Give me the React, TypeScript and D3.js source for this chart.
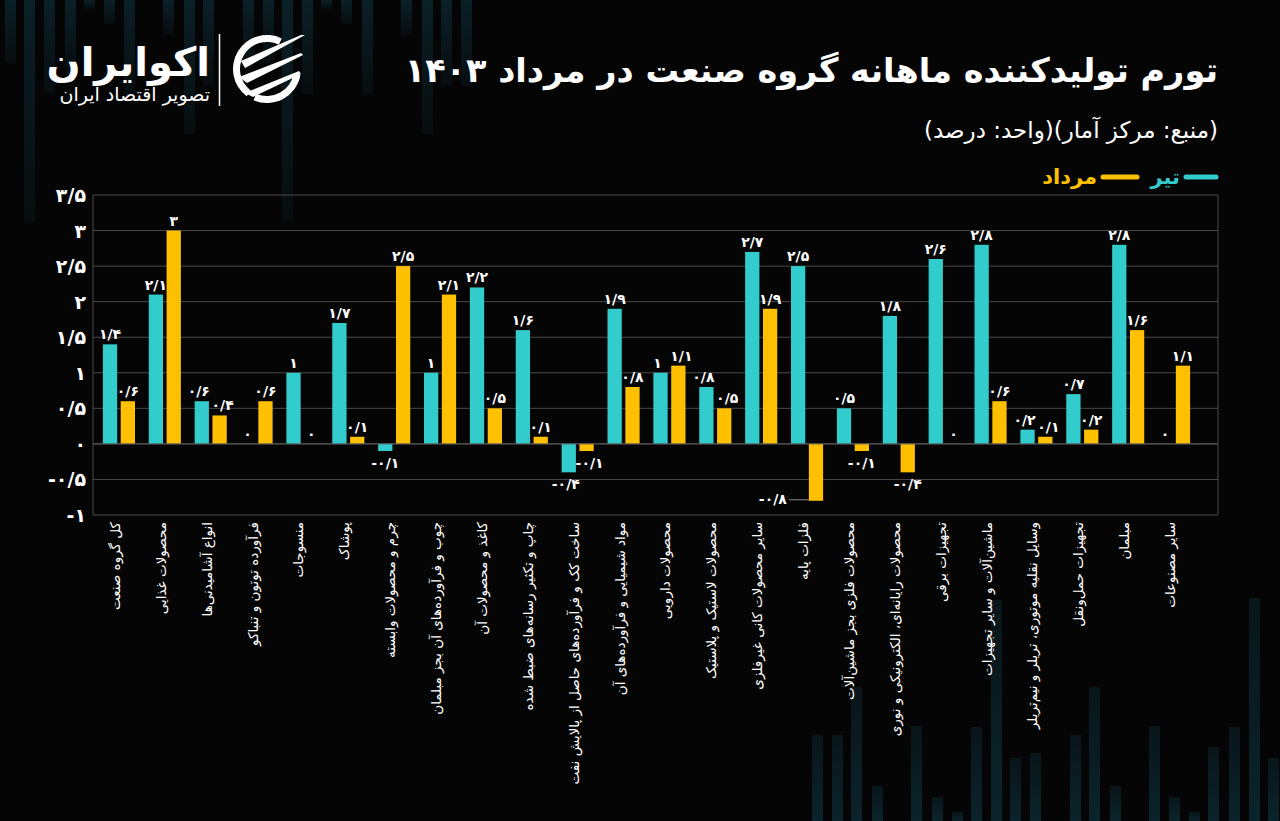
import React from "react";
import * as d3 from "d3";

const categories = [
  "کل گروه صنعت",
  "محصولات غذایی",
  "انواع آشامیدنی‌ها",
  "فرآورده توتون و تنباکو",
  "منسوجات",
  "پوشاک",
  "چرم و محصولات وابسته",
  "چوب و فرآورده‌های آن بجز مبلمان",
  "کاغذ و محصولات آن",
  "چاپ و تکثیر رسانه‌های ضبط شده",
  "ساخت کک و فرآورده‌های حاصل از پالایش نفت",
  "مواد شیمیایی و فرآورده‌های آن",
  "محصولات دارویی",
  "محصولات لاستیک و پلاستیک",
  "سایر محصولات کانی غیرفلزی",
  "فلزات پایه",
  "محصولات فلزی بجز ماشین‌آلات",
  "محصولات رایانه‌ای، الکترونیکی و نوری",
  "تجهیزات برقی",
  "ماشین‌آلات و سایر تجهیزات",
  "وسایل نقلیه موتوری، تریلر و نیم‌تریلر",
  "تجهیزات حمل‌ونقل",
  "مبلمان",
  "سایر مصنوعات",
];

const tirValues = [1.4, 2.1, 0.6, 0, 1, 1.7, -0.1, 1, 2.2, 1.6, -0.4, 1.9, 1, 0.8, 2.7, 2.5, 0.5, 1.8, 2.6, 2.8, 0.2, 0.7, 2.8, 0];
const mordadValues = [0.6, 3, 0.4, 0.6, 0, 0.1, 2.5, 2.1, 0.5, 0.1, -0.1, 0.8, 1.1, 0.5, 1.9, -0.8, -0.1, -0.4, 0, 0.6, 0.1, 0.2, 1.6, 1.1];
const seriesKeys = ["tir", "mordad"];
const seriesNames = ["تیر", "مرداد"];
const yTicks = [-1, -0.5, 0, 0.5, 1, 1.5, 2, 2.5, 3, 3.5];

const titleText = "تورم تولیدکننده ماهانه گروه صنعت در مرداد ۱۴۰۳";
const subtitleText = "\u200F(منبع: مرکز آمار)(واحد: درصد)\u200F";
const brandName = "اکوایران";
const brandTag = "تصویر اقتصاد ایران";

// decorative background bars (x, top) of bottom-right group; mirrored to top-left
const decoBars = [
  [812, 735], [832, 735], [851, 687], [872, 786], [911, 726], [932, 797], [952, 812],
  [971, 727], [991, 600], [1010, 758], [1030, 753], [1070, 735], [1089, 687], [1110, 786],
  [1149, 726], [1169, 797], [1189, 812], [1208, 747], [1229, 727], [1249, 598], [1268, 758],
];

const COLORS = { tir: "#33cccc", mordad: "#ffc000" };
const FONT = "'DejaVu Sans', 'Noto Sans', sans-serif";

const W = 1280;
const H = 821;
const PL = 93;
const PR = 1218;
const PT = 195;
const PB = 515;

const fa = (v: number, sep: string) =>
  String(v)
    .replace(".", sep)
    .replace(/[0-9]/g, (d) => "۰۱۲۳۴۵۶۷۸۹"[+d]);

export default function App() {
  const x = d3.scaleBand<string>().domain(categories).range([96, 1197]).paddingInner(0.3).paddingOuter(0.15);
  const xi = d3.scaleBand<string>().domain(seriesKeys).range([0, x.bandwidth()]).paddingInner(0.2);
  const y = d3.scaleLinear().domain([-1, 3.5]).range([PB, PT]);

  const rows = categories.map((c, i) => ({ c, tir: tirValues[i], mordad: mordadValues[i] }));

  const ringArc = d3.arc();
  const ring1 = ringArc({ innerRadius: 27, outerRadius: 34, startAngle: -2.5, endAngle: 0.45 } as any) as string;
  const ring2 = ringArc({ innerRadius: 27, outerRadius: 34, startAngle: 1.75, endAngle: 3.55 } as any) as string;

  return (
    <svg width={W} height={H} style={{ display: "block", position: "absolute", left: 0, top: 0, background: "#050505" }}>
      <defs>
        <linearGradient id="decoUp" x1="0" y1="0" x2="0" y2="1">
          <stop offset="0" stopColor="#0b232b" stopOpacity={0.55} />
          <stop offset="1" stopColor="#0b232b" stopOpacity={1} />
        </linearGradient>
        <linearGradient id="decoDown" x1="0" y1="0" x2="0" y2="1">
          <stop offset="0" stopColor="#0b232b" stopOpacity={0.9} />
          <stop offset="1" stopColor="#0b232b" stopOpacity={0.25} />
        </linearGradient>
      </defs>
      <rect x={0} y={0} width={W} height={H} fill="#050505" />
      {/* decorative bars */}
      {decoBars.map(([bx, top], i) => (
        <g key={"d" + i}>
          <rect x={bx} y={top} width={11} height={H - top} fill="url(#decoUp)" />
          <rect x={W - bx - 11 + 4} y={0} width={11} height={H - top} fill="url(#decoDown)" />
        </g>
      ))}

      {/* logo */}
      <text x={210} y={76} textAnchor="end" fill="#fff" fontFamily={FONT} fontWeight="bold" fontSize={40}>{brandName}</text>
      <text x={210} y={101} textAnchor="end" fill="#fff" fontFamily={FONT} fontSize={19}>{brandTag}</text>
      <line x1={219.5} x2={219.5} y1={34} y2={106} stroke="#fff" strokeWidth={1.5} />
      <g transform="translate(267,69)">
        <path d={ring1} fill="#fff" />
        <path d={ring2} fill="#fff" />
        <path d="M-26,-8 L34,-34 L38,-34 L-22,-1 Z" fill="#fff" />
        <path d="M-28,8 L34,-16 L36,-14 L-20,14 Z" fill="#fff" />
        <path d="M-22,24 L32,2 L34,5 L-14,28 Z" fill="#fff" />
      </g>

      {/* title */}
      <text x={PR} y={82} textAnchor="end" fill="#fff" fontFamily={FONT} fontWeight="bold" fontSize={33.5}>{titleText}</text>
      <text x={PR} y={138} textAnchor="end" fill="#fff" fontFamily={FONT} fontSize={23}>{subtitleText}</text>

      {/* legend */}
      <line x1={1186} x2={1216} y1={177} y2={177} stroke={COLORS.tir} strokeWidth={5} strokeLinecap="round" />
      <text x={1180} y={184} textAnchor="end" fill={COLORS.tir} fontFamily={FONT} fontWeight="bold" fontSize={21}>{seriesNames[0]}</text>
      <line x1={1103} x2={1137} y1={177} y2={177} stroke={COLORS.mordad} strokeWidth={5} strokeLinecap="round" />
      <text x={1097} y={184} textAnchor="end" fill={COLORS.mordad} fontFamily={FONT} fontWeight="bold" fontSize={21}>{seriesNames[1]}</text>

      {/* grid */}
      {yTicks.map((t) => (
        <g key={"g" + t}>
          <line x1={PL} x2={PR} y1={y(t)} y2={y(t)} stroke="#4a4a4a" strokeWidth={1} />
          <text x={86} y={y(t) + 7} textAnchor="end" fill="#fff" fontFamily={FONT} fontWeight="bold" fontSize={19}>{fa(t, "/")}</text>
        </g>
      ))}
      <line x1={PL} x2={PL} y1={PT} y2={PB} stroke="#4a4a4a" />
      <line x1={PR} x2={PR} y1={PT} y2={PB} stroke="#4a4a4a" />

      {/* bars */}
      {rows.map((r) => {
        const close = Math.abs(r.tir - r.mordad) < 0.35 && Math.sign(r.tir) === Math.sign(r.mordad);
        return (
          <g key={r.c} transform={`translate(${x(r.c)},0)`}>
            {seriesKeys.map((k) => {
              const v = (r as any)[k] as number;
              const bx = xi(k)!;
              const bw = xi.bandwidth();
              const nudge = close ? (k === "tir" ? -3 : 3) : 0;
              const cx = bx + bw / 2 + nudge;
              const y0 = y(0);
              const yv = y(v);
              const label = fa(v, "/");
              const far = v < -0.6;
              return (
                <g key={k}>
                  {v !== 0 && (
                    <rect x={bx} y={Math.min(y0, yv)} width={bw} height={Math.abs(yv - y0)} fill={(COLORS as any)[k]} />
                  )}
                  {far ? (
                    <g>
                      <line x1={bx - 20} x2={bx} y1={yv - 1} y2={yv - 1} stroke="#888" strokeWidth={1} />
                      <text x={bx - 22} y={yv + 3} textAnchor="end" fill="#fff" fontFamily={FONT} fontWeight="bold" fontSize={14}>{label}</text>
                    </g>
                  ) : (
                    <text
                      x={cx}
                      y={v < 0 ? yv + 17 : yv - 5}
                      textAnchor="middle"
                      fill="#fff"
                      fontFamily={FONT}
                      fontWeight="bold"
                      fontSize={14}
                    >
                      {label}
                    </text>
                  )}
                </g>
              );
            })}
          </g>
        );
      })}
      <line x1={PL} x2={PR} y1={y(0)} y2={y(0)} stroke="#5a5a5a" strokeWidth={1} />

      {/* x labels */}
      {categories.map((c) => (
        <text
          key={"l" + c}
          transform={`translate(${x(c)! + x.bandwidth() / 2 - 4},522) rotate(-90)`}
          textAnchor="end"
          dominantBaseline="central"
          fill="#fff"
          fontFamily={FONT}
          fontSize={13.5}
        >
          {c}
        </text>
      ))}
    </svg>
  );
}
